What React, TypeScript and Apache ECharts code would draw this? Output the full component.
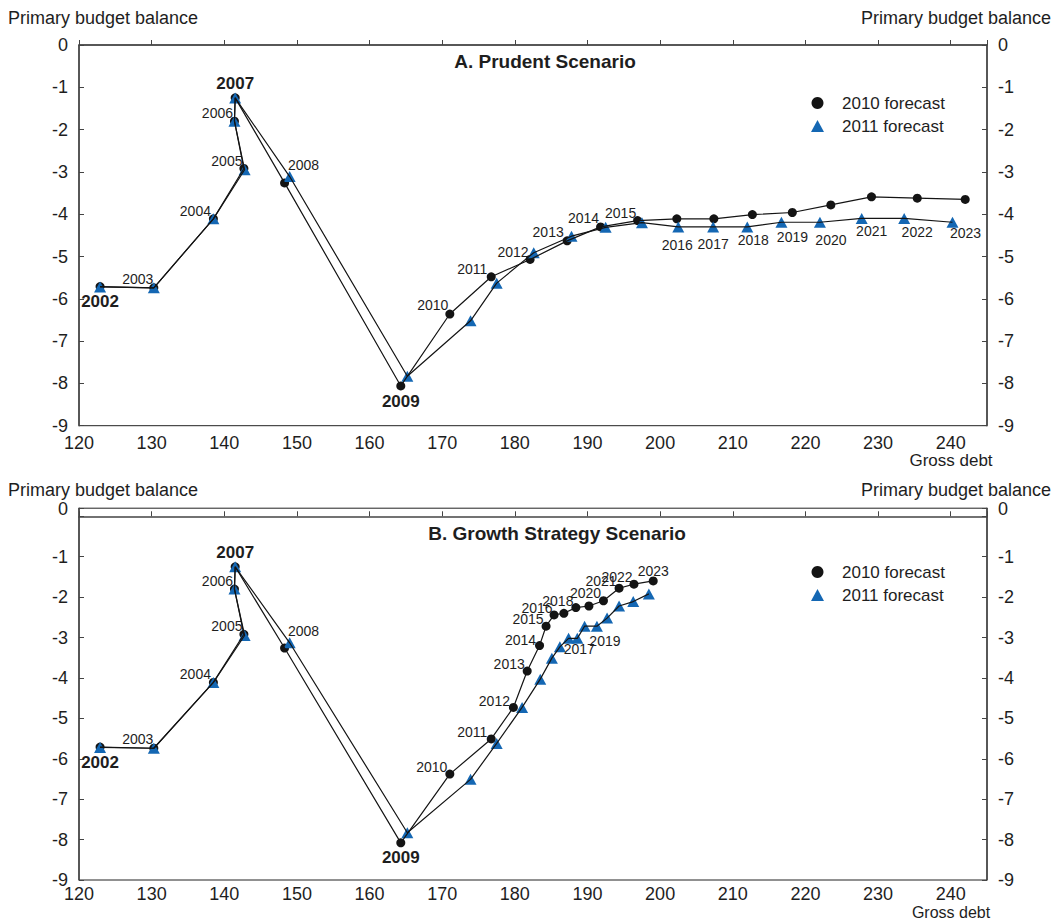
import React, { useEffect, useRef } from "react";
import * as echarts from "echarts";

// ---------- Data ----------
const years = [
  "2002", "2003", "2004", "2005", "2006", "2007", "2008", "2009", "2010", "2011", "2012",
  "2013", "2014", "2015", "2016", "2017", "2018", "2019", "2020", "2021", "2022", "2023",
];

// Panel A: Prudent Scenario
const prudent2010Debt = [
  122.9, 130.3, 138.5, 142.7, 141.4, 141.5, 148.3, 164.3, 171.05, 176.75, 182.1,
  187.2, 191.8, 196.9, 202.3, 207.4, 212.7, 218.2, 223.5, 229.1, 235.4, 242.0,
];
const prudent2010Balance = [
  -5.71, -5.74, -4.11, -2.92, -1.8, -1.25, -3.26, -8.06, -6.36, -5.48, -5.07,
  -4.63, -4.3, -4.15, -4.11, -4.11, -4.01, -3.96, -3.78, -3.59, -3.62, -3.65,
];
const prudent2011Debt = [
  122.9, 130.3, 138.5, 142.8, 141.4, 141.5, 149.0, 165.2, 173.9, 177.5, 182.6,
  187.8, 192.5, 197.5, 202.5, 207.3, 212.0, 216.7, 222.0, 227.75, 233.6, 240.25,
];
const prudent2011Balance = [
  -5.72, -5.74, -4.11, -2.95, -1.8, -1.25, -3.11, -7.83, -6.52, -5.63, -4.91,
  -4.52, -4.31, -4.2, -4.3, -4.3, -4.3, -4.19, -4.19, -4.1, -4.1, -4.19,
];

// Panel B: Growth Strategy Scenario
const growth2010Debt = [
  122.9, 130.3, 138.5, 142.7, 141.4, 141.5, 148.3, 164.3, 171.05, 176.75, 179.8,
  181.7, 183.4, 184.3, 185.4, 186.75, 188.4, 190.2, 192.2, 194.35, 196.4, 199.05,
];
const growth2010Balance = [
  -5.71, -5.74, -4.11, -2.92, -1.8, -1.25, -3.26, -8.08, -6.38, -5.51, -4.73,
  -3.83, -3.2, -2.72, -2.44, -2.4, -2.26, -2.22, -2.09, -1.78, -1.68, -1.6,
];
const growth2011Debt = [
  122.9, 130.3, 138.5, 142.8, 141.4, 141.5, 149.0, 165.2, 173.9, 177.5, 181.0,
  183.5, 185.1, 186.2, 187.4, 188.6, 189.6, 191.3, 192.7, 194.35, 196.3, 198.45,
];
const growth2011Balance = [
  -5.72, -5.74, -4.11, -2.95, -1.8, -1.25, -3.13, -7.83, -6.51, -5.62, -4.73,
  -4.03, -3.51, -3.23, -3.02, -3.02, -2.72, -2.72, -2.52, -2.22, -2.11, -1.92,
];

const xTicks = [120, 130, 140, 150, 160, 170, 180, 190, 200, 210, 220, 230, 240];
const yTicks = [0, -1, -2, -3, -4, -5, -6, -7, -8, -9];

const seriesNames = ["2010 forecast", "2011 forecast"];
const panelTitles = ["A. Prudent Scenario", "B. Growth Strategy Scenario"];
const yAxisTitle = "Primary budget balance";
const xAxisTitle = "Gross debt";

// ---------- Label placement (style, not data) ----------
type LabelSpec = { dx: number; dy: number; bold?: boolean };
const histLabels: Record<string, LabelSpec> = {
  "2002": { dx: 0, dy: 15, bold: true },
  "2003": { dx: -16, dy: -9 },
  "2004": { dx: -18, dy: -8 },
  "2005": { dx: -17, dy: -8 },
  "2006": { dx: -17, dy: -8 },
  "2007": { dx: 0, dy: -14, bold: true },
  "2008": { dx: 19, dy: -18 },
  "2009": { dx: 0, dy: 16, bold: true },
};
const labelsA2010: Record<string, LabelSpec> = {
  ...histLabels,
  "2010": { dx: -17, dy: -9 },
  "2011": { dx: -19, dy: -8 },
  "2012": { dx: -17, dy: -7 },
  "2013": { dx: -19, dy: -9 },
  "2014": { dx: -17, dy: -9 },
  "2015": { dx: -17, dy: -8 },
};
const labelsA2011: Record<string, LabelSpec> = {
  "2016": { dx: -1, dy: 18 },
  "2017": { dx: 0, dy: 17 },
  "2018": { dx: 6, dy: 13 },
  "2019": { dx: 11, dy: 15 },
  "2020": { dx: 11, dy: 18 },
  "2021": { dx: 10, dy: 13 },
  "2022": { dx: 13, dy: 14 },
  "2023": { dx: 13, dy: 11 },
};
const labelsB2010: Record<string, LabelSpec> = {
  ...histLabels,
  "2008": { dx: 19, dy: -17 },
  "2009": { dx: 0, dy: 15, bold: true },
  "2010": { dx: -18, dy: -7 },
  "2011": { dx: -19, dy: -7 },
  "2012": { dx: -19, dy: -6 },
  "2013": { dx: -18, dy: -7 },
  "2014": { dx: -19, dy: -6 },
  "2015": { dx: -18, dy: -7 },
  "2016": { dx: -17, dy: -7 },
  "2018": { dx: -18, dy: -7 },
  "2020": { dx: -18, dy: -8 },
  "2021": { dx: -18, dy: -7 },
  "2022": { dx: -17, dy: -7 },
  "2023": { dx: 0, dy: -10 },
};
const labelsB2011: Record<string, LabelSpec> = {
  "2017": { dx: 2, dy: 11 },
  "2019": { dx: 8, dy: 15 },
};

const FONT = "'Liberation Sans', Arial, Helvetica, sans-serif";
const TEXT = "#1e1e1e";
const BLUE = "#1467b3";
const DARK = "#141414";

function buildPoints(xs: number[], ys: number[], labels: Record<string, LabelSpec>) {
  return years.map((yr, i) => {
    const spec = labels[yr];
    const item: any = { value: [xs[i], ys[i]], name: yr };
    if (spec) {
      item.label = {
        show: true,
        position: "inside",
        offset: [spec.dx, spec.dy],
        formatter: yr,
        fontFamily: FONT,
        fontSize: spec.bold ? 17 : 14,
        fontWeight: spec.bold ? "bold" : "normal",
        color: TEXT,
      };
    }
    return item;
  });
}

function linePoints(xs: number[], ys: number[]) {
  return years.map((_, i) => [xs[i], ys[i]]);
}

export default function App() {
  const ref = useRef<HTMLDivElement>(null);

  useEffect(() => {
    if (!ref.current) return;
    const chart = echarts.init(ref.current, null, { renderer: "svg" });

    const grids = [
      { left: 79, top: 45, width: 908, height: 380.7 },
      { left: 79, top: 508.2, width: 908, height: 371.8 },
    ];

    const xAxes = grids.map((_, gi) => ({
      type: "value",
      gridIndex: gi,
      min: xTicks[0],
      max: 245,
      interval: xTicks[1] - xTicks[0],
      axisLine: { show: true, lineStyle: { color: "#444", width: 1.5 } },
      axisTick: { show: true, inside: true, length: 5, lineStyle: { color: "#444" } },
      splitLine: { show: false },
      axisLabel: {
        margin: gi === 0 ? 8 : 5,
        fontFamily: FONT,
        fontSize: 18,
        color: TEXT,
        formatter: (v: number) => (xTicks.includes(v) ? String(v) : ""),
      },
    }));

    const yAxes: any[] = [];
    grids.forEach((_, gi) => {
      ["left", "right"].forEach((pos) => {
        yAxes.push({
          type: "value",
          gridIndex: gi,
          position: pos,
          min: yTicks[yTicks.length - 1],
          max: gi === 0 ? 0 : 0.2,
          interval: 1,
          axisLine: { show: true, lineStyle: { color: "#444", width: 1.5 } },
          axisTick: { show: true, inside: true, length: 5, lineStyle: { color: "#444" } },
          splitLine: { show: false },
          axisLabel: {
            margin: 11,
            fontFamily: FONT,
            fontSize: 18,
            color: TEXT,
            formatter: (v: number) => {
              if (!yTicks.includes(v)) return "";
              if (gi === 1 && v === 0) return "";
              return String(v);
            },
          },
        });
      });
    });

    const panels = [
      { x10: prudent2010Debt, y10: prudent2010Balance, x11: prudent2011Debt, y11: prudent2011Balance, l10: labelsA2010, l11: labelsA2011 },
      { x10: growth2010Debt, y10: growth2010Balance, x11: growth2011Debt, y11: growth2011Balance, l10: labelsB2010, l11: labelsB2011 },
    ];

    const series: any[] = [];
    panels.forEach((p, gi) => {
      series.push({
        type: "scatter",
        name: seriesNames[0],
        xAxisIndex: gi,
        yAxisIndex: gi * 2,
        symbol: "circle",
        symbolSize: 9,
        itemStyle: { color: DARK, opacity: 1 },
        data: buildPoints(p.x10, p.y10, p.l10),
        z: 2,
        silent: true,
      });
      series.push({
        type: "scatter",
        name: seriesNames[1],
        xAxisIndex: gi,
        yAxisIndex: gi * 2,
        symbol: "triangle",
        symbolSize: [12, 11],
        itemStyle: { color: BLUE, opacity: 1 },
        data: buildPoints(p.x11, p.y11, p.l11),
        z: 3,
        silent: true,
      });
      series.push({
        type: "line",
        name: "path-2010-" + gi,
        xAxisIndex: gi,
        yAxisIndex: gi * 2,
        symbol: "none",
        lineStyle: { color: DARK, width: 1.2 },
        data: linePoints(p.x10, p.y10),
        z: 4,
        silent: true,
      });
      series.push({
        type: "line",
        name: "path-2011-" + gi,
        xAxisIndex: gi,
        yAxisIndex: gi * 2,
        symbol: "none",
        lineStyle: { color: DARK, width: 1.2 },
        data: linePoints(p.x11, p.y11),
        z: 4,
        silent: true,
      });
    });

    const legendBase = {
      orient: "vertical",
      left: 806,
      itemWidth: 13,
      itemHeight: 12,
      itemGap: 5,
      selectedMode: false,
      textStyle: { fontFamily: FONT, fontSize: 17, color: TEXT, lineHeight: 18, padding: [0, 0, 0, 13] },
      data: [
        { name: seriesNames[0], icon: "circle" },
        { name: seriesNames[1], icon: "triangle" },
      ],
    };

    const textStyleCommon = { fontFamily: FONT, fill: TEXT };

    chart.setOption({
      animation: false,
      backgroundColor: "#fff",
      grid: grids.map((g) => ({ ...g, show: true, borderColor: "#222", borderWidth: 1, containLabel: false })),
      xAxis: xAxes,
      yAxis: yAxes,
      legend: [
        { ...legendBase, top: 89 },
        { ...legendBase, top: 558 },
      ],
      title: [
        { text: panelTitles[0], left: 540, top: 47, textAlign: "center", textStyle: { fontFamily: FONT, fontSize: 19, fontWeight: "bold", color: TEXT } },
        { text: panelTitles[1], left: 552, top: 519, textAlign: "center", textStyle: { fontFamily: FONT, fontSize: 19, fontWeight: "bold", color: TEXT } },
      ],
      graphic: [
        { type: "text", left: 8, top: 9, style: { ...textStyleCommon, text: yAxisTitle, fontSize: 18 } },
        { type: "text", right: 5, top: 9, style: { ...textStyleCommon, text: yAxisTitle, fontSize: 18 } },
        { type: "text", left: 8, top: 481, style: { ...textStyleCommon, text: yAxisTitle, fontSize: 18 } },
        { type: "text", right: 5, top: 481, style: { ...textStyleCommon, text: yAxisTitle, fontSize: 18 } },
        { type: "text", x: 951, y: 460, style: { ...textStyleCommon, text: xAxisTitle, fontSize: 17, align: "center", verticalAlign: "middle" } },
        { type: "text", x: 951, y: 912, style: { ...textStyleCommon, text: xAxisTitle, fontSize: 16, align: "center", verticalAlign: "middle" } },
        { type: "text", x: 68, y: 509, style: { ...textStyleCommon, text: "0", fontSize: 18, align: "right", verticalAlign: "middle" } },
        { type: "text", x: 998, y: 509, style: { ...textStyleCommon, text: "0", fontSize: 18, align: "left", verticalAlign: "middle" } },
      ],
      series,
    });

    return () => chart.dispose();
  }, []);

  return (
    <div
      ref={ref}
      style={{ position: "absolute", left: 0, top: 0, width: 1056, height: 920 }}
    />
  );
}
